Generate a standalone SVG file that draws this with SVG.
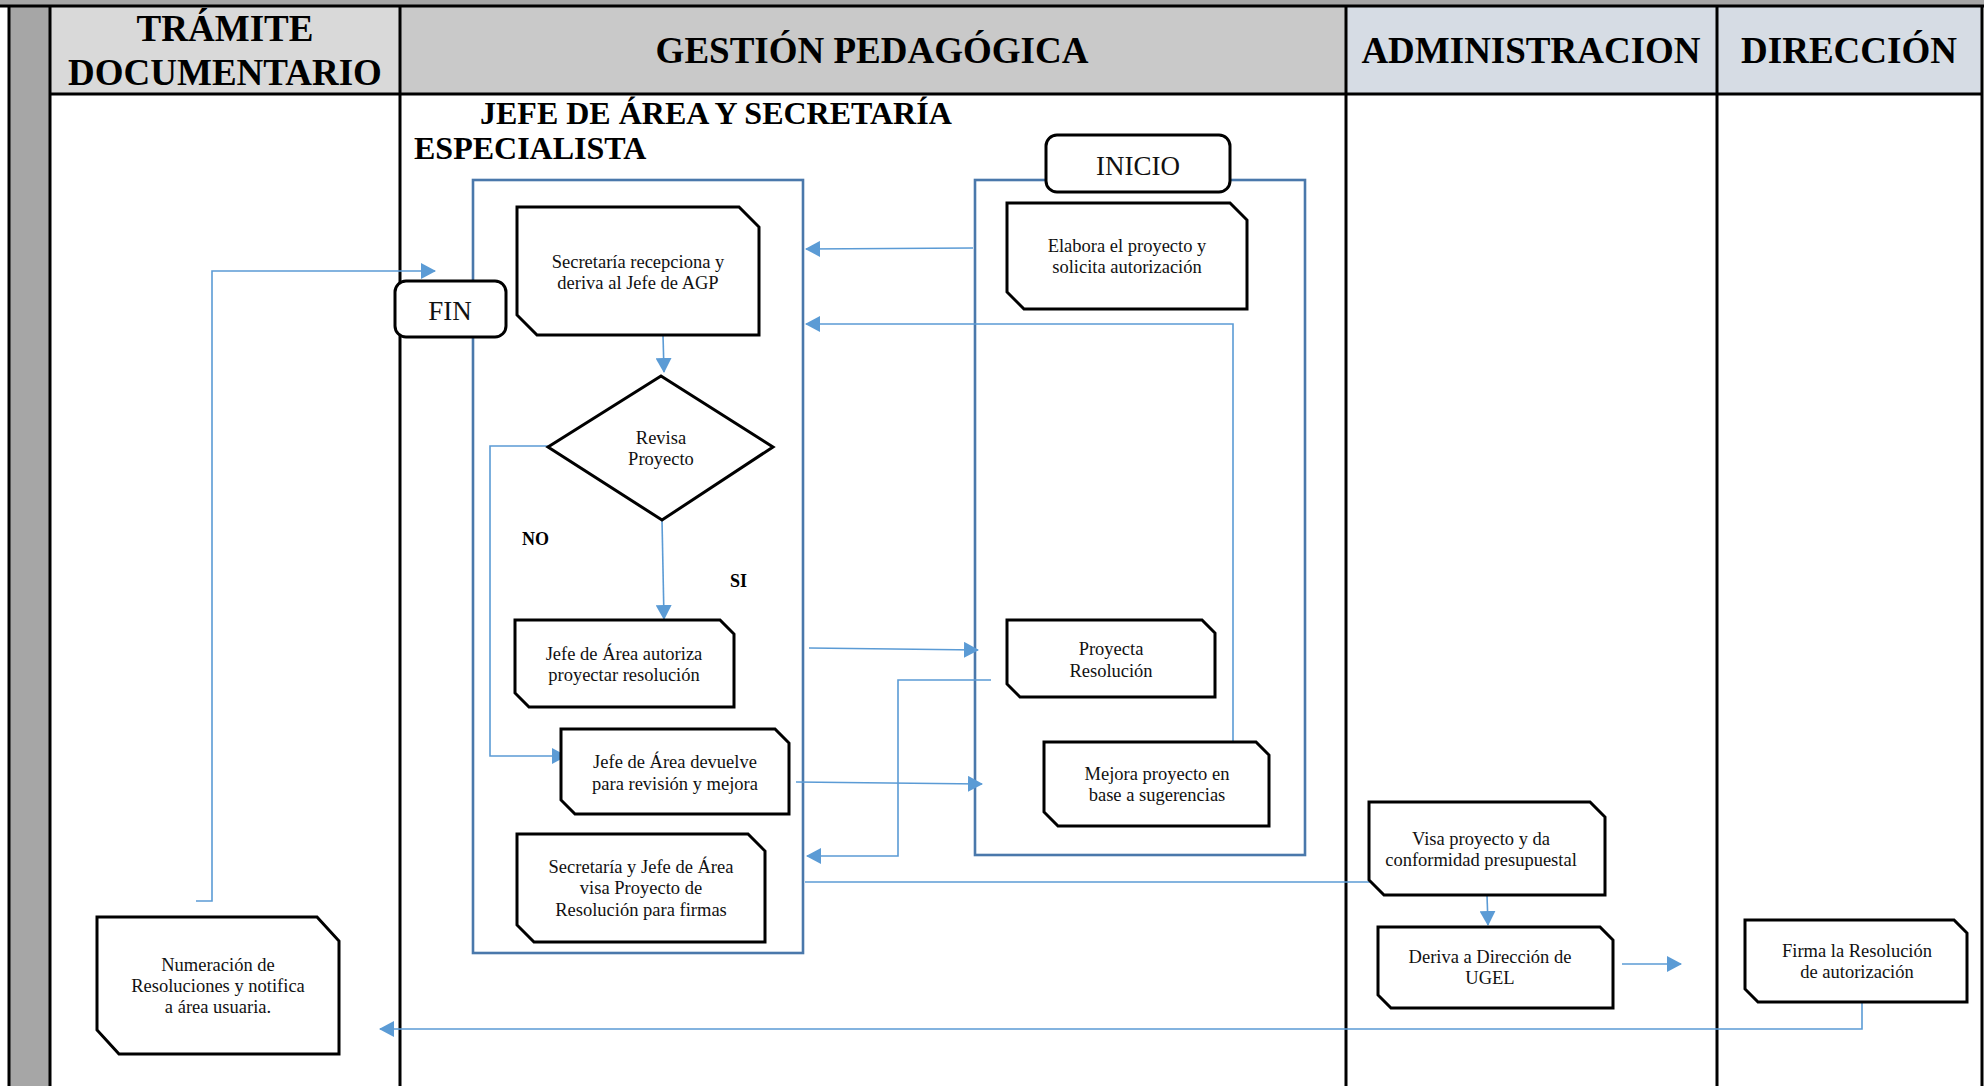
<svg xmlns="http://www.w3.org/2000/svg" width="1984" height="1086" viewBox="0 0 1984 1086">
<style>
.hd{font-family:"Liberation Serif","Times New Roman",serif;font-weight:bold;font-size:37px;fill:#000;text-anchor:middle}
.sub{font-family:"Liberation Serif","Times New Roman",serif;font-weight:bold;font-size:32px;fill:#000}
.t{font-family:"Liberation Serif","Times New Roman",serif;font-size:18.5px;fill:#111;text-anchor:middle}
.big{font-family:"Liberation Serif","Times New Roman",serif;font-size:27px;fill:#111;text-anchor:middle}
.lbl{font-family:"Liberation Serif","Times New Roman",serif;font-weight:bold;font-size:18px;fill:#000}
.grid{stroke:#000;stroke-width:3;fill:none}
.node{fill:#fff;stroke:#000;stroke-width:3;stroke-linejoin:miter}
.cont{fill:none;stroke:#4a78ab;stroke-width:2.6}
.conn{fill:none;stroke:#5b9bd5;stroke-width:1.6}
</style>
<defs>
<marker id="arr" markerUnits="userSpaceOnUse" markerWidth="15" markerHeight="16" refX="14" refY="8" orient="auto">
<path d="M0,0 L15,8 L0,16 Z" fill="#5b9bd5"/>
</marker>
</defs>
<rect x="0" y="0" width="1984" height="1086" fill="#fff"/>
<g id="table">
<rect x="0" y="0" width="1984" height="6" fill="#a6a6a6"/>
<rect x="9" y="6" width="41" height="1080" fill="#a6a6a6"/>
<rect x="50" y="6" width="350" height="88" fill="#d9d9d9"/>
<rect x="400" y="6" width="946" height="88" fill="#c9c9c9"/>
<rect x="1346" y="6" width="371" height="88" fill="#d6dce4"/>
<rect x="1717" y="6" width="265" height="88" fill="#d6dce4"/>
<line class="grid" x1="0" y1="6" x2="1984" y2="6"/>
<line class="grid" x1="50" y1="94" x2="1982" y2="94"/>
<line class="grid" x1="9" y1="6" x2="9" y2="1086"/>
<line class="grid" x1="50" y1="6" x2="50" y2="1086"/>
<line class="grid" x1="400" y1="6" x2="400" y2="1086"/>
<line class="grid" x1="1346" y1="6" x2="1346" y2="1086"/>
<line class="grid" x1="1717" y1="6" x2="1717" y2="1086"/>
<line class="grid" x1="1982" y1="6" x2="1982" y2="1086"/>
<text class="hd" x="225" y="41">TRÁMITE</text>
<text class="hd" x="225" y="85">DOCUMENTARIO</text>
<text class="hd" x="872" y="63">GESTIÓN PEDAGÓGICA</text>
<text class="hd" x="1531" y="63">ADMINISTRACION</text>
<text class="hd" x="1849" y="63">DIRECCIÓN</text>
<text class="sub" x="480" y="124">JEFE DE ÁREA Y SECRETARÍA</text>
<text class="sub" x="414" y="159">ESPECIALISTA</text>
</g>
<g id="containers">
<rect class="cont" x="473" y="180" width="330" height="773"/>
<rect class="cont" x="975" y="180" width="330" height="675"/>
</g>
<g id="connectors">
<path class="conn" d="M663,335 L664,372" marker-end="url(#arr)"/>
<path class="conn" d="M548,446 H490 V756 H566" marker-end="url(#arr)"/>
<path class="conn" d="M662,520 L664,619" marker-end="url(#arr)"/>
<path class="conn" d="M973,248 L806,249" marker-end="url(#arr)"/>
<path class="conn" d="M1247,742 H1233 V324 H806" marker-end="url(#arr)"/>
<path class="conn" d="M809,648 L978,650" marker-end="url(#arr)"/>
<path class="conn" d="M991,680 H898 V856 H807" marker-end="url(#arr)"/>
<path class="conn" d="M796,782 L982,784" marker-end="url(#arr)"/>
<path class="conn" d="M805,882 H1434" marker-end="url(#arr)"/>
<path class="conn" d="M1487,895 L1488,925" marker-end="url(#arr)"/>
<path class="conn" d="M1622,964 H1681" marker-end="url(#arr)"/>
<path class="conn" d="M1862,1002 V1029 H380" marker-end="url(#arr)"/>
<path class="conn" d="M196,901 H212 V271 H435" marker-end="url(#arr)"/>
</g>
<g id="inicio">
<rect class="node" x="1046" y="135" width="184" height="57" rx="11"/>
<text class="big" x="1138" y="175">INICIO</text>
</g>
<g id="fin">
<rect class="node" x="395" y="281" width="111" height="56" rx="11"/>
<text class="big" x="450" y="320">FIN</text>
</g>
<g id="n-secretaria">
<path class="node" d="M517,207 H739 L759,227 V335 H537 L517,315 Z"/>
<text class="t" x="638" y="268">Secretaría recepciona y</text>
<text class="t" x="638" y="289">deriva al Jefe de AGP</text>
</g>
<g id="n-revisa">
<path class="node" d="M548,447 L661,376 L773,447 L662,520 Z"/>
<text class="t" x="661" y="444">Revisa</text>
<text class="t" x="661" y="465">Proyecto</text>
</g>
<text class="lbl" x="522" y="545">NO</text>
<text class="lbl" x="730" y="587">SI</text>
<g id="n-autoriza">
<path class="node" d="M515,620 H720 L734,634 V707 H529 L515,693 Z"/>
<text class="t" x="624" y="660">Jefe de Área autoriza</text>
<text class="t" x="624" y="681">proyectar resolución</text>
</g>
<g id="n-devuelve">
<path class="node" d="M561,729 H775 L789,743 V814 H575 L561,800 Z"/>
<text class="t" x="675" y="768">Jefe de Área devuelve</text>
<text class="t" x="675" y="790">para revisión y mejora</text>
</g>
<g id="n-visa-proyecto">
<path class="node" d="M517,834 H748 L765,851 V942 H534 L517,925 Z"/>
<text class="t" x="641" y="873">Secretaría y Jefe de Área</text>
<text class="t" x="641" y="894">visa Proyecto de</text>
<text class="t" x="641" y="916">Resolución para firmas</text>
</g>
<g id="n-elabora">
<path class="node" d="M1007,203 H1230 L1247,220 V309 H1024 L1007,292 Z"/>
<text class="t" x="1127" y="252">Elabora el proyecto y</text>
<text class="t" x="1127" y="273">solicita autorización</text>
</g>
<g id="n-proyecta">
<path class="node" d="M1007,620 H1202 L1215,633 V697 H1020 L1007,684 Z"/>
<text class="t" x="1111" y="655">Proyecta</text>
<text class="t" x="1111" y="677">Resolución</text>
</g>
<g id="n-mejora">
<path class="node" d="M1044,742 H1256 L1269,755 V826 H1058 L1044,812 Z"/>
<text class="t" x="1157" y="780">Mejora proyecto en</text>
<text class="t" x="1157" y="801">base a sugerencias</text>
</g>
<g id="n-visa-conformidad">
<path class="node" d="M1369,802 H1590 L1605,817 V895 H1384 L1369,880 Z"/>
<text class="t" x="1481" y="845">Visa proyecto y da</text>
<text class="t" x="1481" y="866">conformidad presupuestal</text>
</g>
<g id="n-deriva">
<path class="node" d="M1378,927 H1600 L1613,940 V1008 H1391 L1378,995 Z"/>
<text class="t" x="1490" y="963">Deriva a Dirección de</text>
<text class="t" x="1490" y="984">UGEL</text>
</g>
<g id="n-firma">
<path class="node" d="M1745,920 H1954 L1967,933 V1002 H1758 L1745,989 Z"/>
<text class="t" x="1857" y="957">Firma la Resolución</text>
<text class="t" x="1857" y="978">de autorización</text>
</g>
<g id="n-numeracion">
<path class="node" d="M97,917 H317 L339,941 V1054 H119 L97,1030 Z"/>
<text class="t" x="218" y="971">Numeración de</text>
<text class="t" x="218" y="992">Resoluciones y notifica</text>
<text class="t" x="218" y="1013">a área usuaria.</text>
</g>
</svg>
